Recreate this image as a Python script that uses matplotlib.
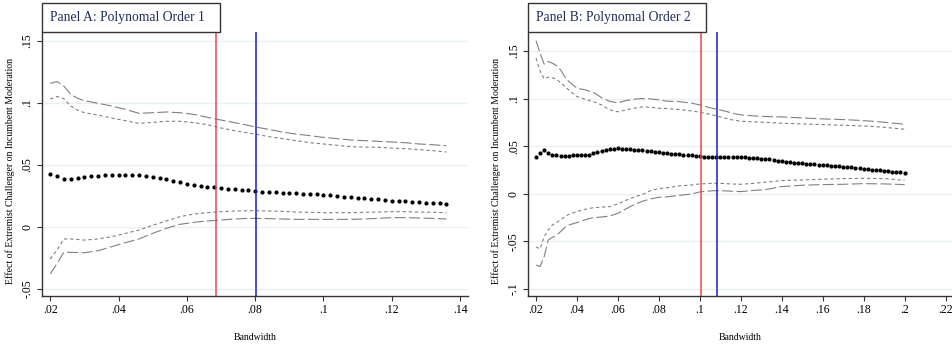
import matplotlib
matplotlib.use("Agg")
import matplotlib.pyplot as plt
from matplotlib.patches import Rectangle
from matplotlib.ticker import FuncFormatter

plt.rcParams['font.family'] = ['Liberation Serif', 'DejaVu Serif']

# ---------------- Panel A data (polynomial order 1) ----------------
a_bw = [0.020, 0.022, 0.024, 0.026, 0.028, 0.030, 0.032, 0.034, 0.036, 0.038,
        0.040, 0.042, 0.044, 0.046, 0.048, 0.050, 0.052, 0.054, 0.056, 0.058,
        0.060, 0.062, 0.064, 0.066, 0.068, 0.070, 0.072, 0.074, 0.076, 0.078,
        0.080, 0.082, 0.084, 0.086, 0.088, 0.090, 0.092, 0.094, 0.096, 0.098,
        0.100, 0.102, 0.104, 0.106, 0.108, 0.110, 0.112, 0.114, 0.116, 0.118,
        0.120, 0.122, 0.124, 0.126, 0.128, 0.130, 0.132, 0.134, 0.136]
a_est = [0.0427, 0.0411, 0.0382, 0.0384, 0.0390, 0.0400, 0.0409, 0.0411, 0.0414, 0.0417,
         0.0414, 0.0414, 0.0414, 0.0414, 0.0410, 0.0400, 0.0392, 0.0384, 0.0371, 0.0358,
         0.0347, 0.0339, 0.0331, 0.0323, 0.0317, 0.0312, 0.0306, 0.0301, 0.0298, 0.0293,
         0.0288, 0.0282, 0.0280, 0.0277, 0.0274, 0.0272, 0.0269, 0.0266, 0.0263, 0.0260,
         0.0258, 0.0253, 0.0247, 0.0242, 0.0239, 0.0234, 0.0228, 0.0223, 0.0220, 0.0215,
         0.0210, 0.0207, 0.0204, 0.0202, 0.0196, 0.0194, 0.0191, 0.0188, 0.0185]

a_ci_bw = [0.020, 0.022, 0.024, 0.026, 0.028, 0.030, 0.034, 0.038, 0.042, 0.046,
           0.050, 0.054, 0.058, 0.062, 0.066, 0.070, 0.074, 0.078, 0.080, 0.084,
           0.088, 0.092, 0.096, 0.100, 0.104, 0.108, 0.112, 0.116, 0.120, 0.124,
           0.128, 0.132, 0.136]
a_hi95 = [0.1156, 0.1170, 0.1134, 0.1067, 0.1035, 0.1016, 0.0995, 0.0973, 0.0946, 0.0914,
          0.0919, 0.0925, 0.0919, 0.0906, 0.0882, 0.0860, 0.0839, 0.0817, 0.0804, 0.0785,
          0.0763, 0.0747, 0.0734, 0.0720, 0.0710, 0.0699, 0.0694, 0.0688, 0.0683, 0.0677,
          0.0667, 0.0661, 0.0653]
a_hi90 = [0.1030, 0.1050, 0.1032, 0.0973, 0.0940, 0.0919, 0.0900, 0.0876, 0.0855, 0.0833,
          0.0841, 0.0850, 0.0850, 0.0839, 0.0823, 0.0796, 0.0774, 0.0755, 0.0747, 0.0726,
          0.0710, 0.0694, 0.0677, 0.0667, 0.0656, 0.0645, 0.0642, 0.0640, 0.0634, 0.0629,
          0.0621, 0.0613, 0.0602]
a_lo90 = [-0.0261, -0.0188, -0.0099, -0.0099, -0.0103, -0.0108, -0.0099, -0.0081, -0.0054, -0.0027,
          0.0011, 0.0046, 0.0081, 0.0102, 0.0113, 0.0121, 0.0126, 0.0129, 0.0129, 0.0126,
          0.0124, 0.0118, 0.0116, 0.0113, 0.0113, 0.0113, 0.0116, 0.0118, 0.0121, 0.0121,
          0.0118, 0.0116, 0.0113]
a_lo95 = [-0.0382, -0.0296, -0.0207, -0.0207, -0.0208, -0.0210, -0.0194, -0.0161, -0.0129, -0.0099,
          -0.0054, -0.0013, 0.0019, 0.0035, 0.0046, 0.0054, 0.0062, 0.0067, 0.0067, 0.0065,
          0.0062, 0.0059, 0.0059, 0.0059, 0.0059, 0.0059, 0.0062, 0.0067, 0.0073, 0.0073,
          0.0070, 0.0067, 0.0062]
a_red = 0.0684
a_blue = 0.0801

# ---------------- Panel B data (polynomial order 2) ----------------
b_bw = [round(0.020 + 0.002 * i, 3) for i in range(91)]
b_est = [0.0382, 0.0432, 0.0460, 0.0425, 0.0410, 0.0404, 0.0400, 0.0396, 0.0400, 0.0404,
         0.0407, 0.0407, 0.0407, 0.0410, 0.0425, 0.0439, 0.0449, 0.0460, 0.0467, 0.0474,
         0.0477, 0.0474, 0.0470, 0.0467, 0.0463, 0.0460, 0.0456, 0.0453, 0.0446, 0.0442,
         0.0435, 0.0432, 0.0425, 0.0421, 0.0418, 0.0414, 0.0410, 0.0407, 0.0404, 0.0400,
         0.0393, 0.0389, 0.0386, 0.0382, 0.0382, 0.0382, 0.0382, 0.0382, 0.0386, 0.0386,
         0.0382, 0.0382, 0.0379, 0.0375, 0.0372, 0.0368, 0.0365, 0.0361, 0.0354, 0.0347,
         0.0340, 0.0333, 0.0330, 0.0326, 0.0323, 0.0319, 0.0316, 0.0312, 0.0309, 0.0305,
         0.0302, 0.0298, 0.0295, 0.0291, 0.0288, 0.0284, 0.0281, 0.0277, 0.0274, 0.0267,
         0.0263, 0.0256, 0.0253, 0.0249, 0.0246, 0.0242, 0.0235, 0.0232, 0.0228, 0.0225,
         0.0221]

b_ci_bw = [0.020, 0.022, 0.024, 0.026, 0.028, 0.030, 0.032, 0.034, 0.036, 0.040,
           0.044, 0.048, 0.052, 0.056, 0.060, 0.064, 0.068, 0.072, 0.076, 0.080,
           0.084, 0.090, 0.096, 0.100, 0.104, 0.108, 0.112, 0.116, 0.120, 0.126,
           0.132, 0.140, 0.150, 0.160, 0.170, 0.180, 0.190, 0.200]
b_hi95 = [0.1610, 0.1477, 0.1361, 0.1389, 0.1372, 0.1347, 0.1302, 0.1232, 0.1179, 0.1109,
          0.1091, 0.1065, 0.1010, 0.0970, 0.0955, 0.0979, 0.0993, 0.1000, 0.0996, 0.0986,
          0.0972, 0.0968, 0.0951, 0.0933, 0.0909, 0.0888, 0.0870, 0.0846, 0.0828, 0.0818,
          0.0811, 0.0807, 0.0796, 0.0786, 0.0779, 0.0768, 0.0751, 0.0730]
b_hi90 = [0.1425, 0.1291, 0.1207, 0.1225, 0.1218, 0.1204, 0.1168, 0.1130, 0.1091, 0.1021,
          0.0993, 0.0968, 0.0933, 0.0881, 0.0860, 0.0881, 0.0898, 0.0912, 0.0909, 0.0898,
          0.0895, 0.0884, 0.0870, 0.0856, 0.0839, 0.0818, 0.0796, 0.0775, 0.0761, 0.0755,
          0.0750, 0.0740, 0.0733, 0.0726, 0.0719, 0.0712, 0.0698, 0.0677]
b_lo90 = [-0.0561, -0.0582, -0.0453, -0.0382, -0.0330, -0.0305, -0.0277, -0.0245, -0.0218, -0.0189,
          -0.0165, -0.0148, -0.0142, -0.0137, -0.0109, -0.0070, -0.0035, -0.0010, 0.0032, 0.0053,
          0.0062, 0.0081, 0.0091, 0.0102, 0.0106, 0.0109, 0.0106, 0.0101, 0.0098, 0.0108,
          0.0120, 0.0137, 0.0144, 0.0151, 0.0158, 0.0161, 0.0158, 0.0140]
b_lo95 = [-0.0751, -0.0768, -0.0663, -0.0488, -0.0460, -0.0439, -0.0400, -0.0358, -0.0330, -0.0305,
          -0.0275, -0.0252, -0.0246, -0.0236, -0.0207, -0.0160, -0.0115, -0.0080, -0.0056, -0.0039,
          -0.0034, -0.0018, -0.0004, 0.0018, 0.0026, 0.0032, 0.0029, 0.0025, 0.0021, 0.0033,
          0.0042, 0.0074, 0.0088, 0.0095, 0.0098, 0.0105, 0.0102, 0.0095]
b_red = 0.1006
b_blue = 0.1083

a_xticks = [0.02, 0.04, 0.06, 0.08, 0.10, 0.12, 0.14]
a_yticks = [-0.05, 0.0, 0.05, 0.10, 0.15]
b_xticks = [0.02, 0.04, 0.06, 0.08, 0.10, 0.12, 0.14, 0.16, 0.18, 0.20, 0.22]
b_yticks = [-0.10, -0.05, 0.0, 0.05, 0.10, 0.15]

ylabel_text = "Effect of Extremist Challenger on Incumbent Moderation"
xlabel_text = "Bandwidth"
titles = ["Panel A: Polynomal Order 1", "Panel B: Polynomal Order 2"]


def stata_fmt(v, pos=None):
    v = round(v, 4)
    if abs(v) < 1e-9:
        return "0"
    s = ("%g" % v)
    s = s.replace("0.", ".")
    return s


W, H = 953, 345
fig = plt.figure(figsize=(W / 100, H / 100), dpi=100)


def px_axes(l, r, t, b):
    return fig.add_axes([l / W, 1 - b / H, (r - l) / W, (b - t) / H])


panels = [
    dict(ax=px_axes(42, 468, 32, 296), bw=a_bw, est=a_est, cibw=a_ci_bw,
         hi95=a_hi95, hi90=a_hi90, lo90=a_lo90, lo95=a_lo95, red=a_red, blue=a_blue,
         xlim=(0.0176, 0.1423), ylim=(-0.0559, 0.157), xt=a_xticks, yt=a_yticks,
         box=(42, 220), tx=50, title=titles[0]),
    dict(ax=px_axes(528.3, 952.5, 32, 296), bw=b_bw, est=b_est, cibw=b_ci_bw,
         hi95=b_hi95, hi90=b_hi90, lo90=b_lo90, lo95=b_lo95, red=b_red, blue=b_blue,
         xlim=(0.01625, 0.2234), ylim=(-0.1077, 0.170), xt=b_xticks, yt=b_yticks,
         box=(528.3, 705.7), tx=536, title=titles[1]),
]

grey = "#808080"
for p in panels:
    ax = p["ax"]
    for y in p["yt"]:
        ax.axhline(y, color="#e8f1f2", lw=1.0, zorder=0)
    ax.plot(p["cibw"], p["hi95"], color=grey, lw=0.8, dashes=(10, 3), zorder=2)
    ax.plot(p["cibw"], p["lo95"], color=grey, lw=0.8, dashes=(10, 3), zorder=2)
    ax.plot(p["cibw"], p["hi90"], color=grey, lw=0.8, dashes=(3, 2.5), zorder=2)
    ax.plot(p["cibw"], p["lo90"], color=grey, lw=0.8, dashes=(3, 2.5), zorder=2)
    ax.plot(p["bw"], p["est"], linestyle="none", marker="o", ms=2.0,
            color="black", zorder=3)
    ax.axvline(p["red"], color="#f04646", lw=1.1, zorder=4)
    ax.axvline(p["blue"], color="#1c1ccc", lw=1.1, zorder=4)

    ax.set_xlim(*p["xlim"])
    ax.set_ylim(*p["ylim"])
    ax.set_xticks(p["xt"])
    ax.set_yticks(p["yt"])
    ax.xaxis.set_major_formatter(FuncFormatter(stata_fmt))
    ax.yaxis.set_major_formatter(FuncFormatter(stata_fmt))
    ax.tick_params(axis="both", direction="out", length=3.5, width=0.8,
                   color="#333333", labelsize=8.5, pad=2.5)
    for lab in ax.get_yticklabels():
        lab.set_rotation(90)
        lab.set_va("center")
    for s in ["top", "right"]:
        ax.spines[s].set_visible(False)
    for s in ["left", "bottom"]:
        ax.spines[s].set_color("#333333")
        ax.spines[s].set_linewidth(1.0)
    ax.set_ylabel(ylabel_text, fontsize=7)
    ax.set_xlabel(xlabel_text, fontsize=7)
    ax.yaxis.set_label_coords(-27 / ax.get_window_extent().width, 0.475)
    ax.xaxis.set_label_coords(0.5, -0.14)

    bl, br = p["box"]
    fig.add_artist(Rectangle((bl / W, 1 - 32 / H), (br - bl) / W, 29 / H,
                             transform=fig.transFigure, facecolor="white",
                             edgecolor="#333333", lw=1.0))
    fig.text(p["tx"] / W, 1 - 17.5 / H, p["title"], fontsize=9.8,
             color="#1f2d5c", ha="left", va="center")

fig.savefig("out.png", dpi=100)
